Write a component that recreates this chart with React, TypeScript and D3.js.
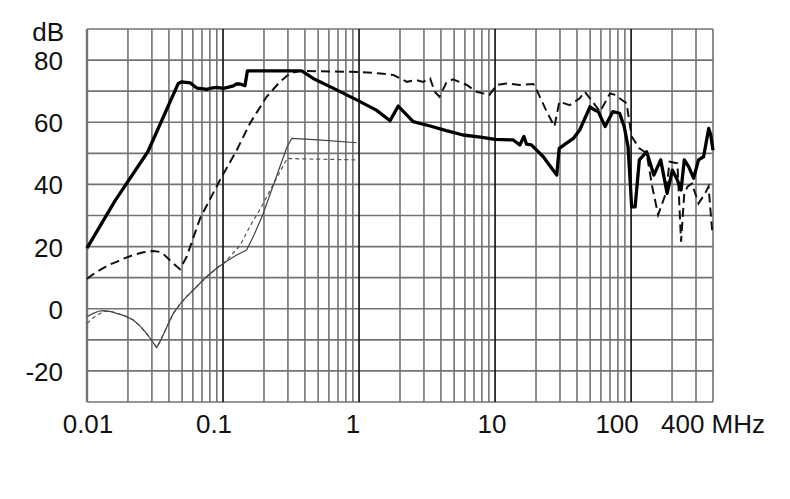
import React from "react";
import * as d3 from "d3";

type Pt = [number, number];

// Frequencies in MHz, levels in dB
const thickSolid: Pt[] = [
  [0.01, 19.5], [0.0161, 34.8], [0.028, 50.5], [0.0469, 72.5], [0.0497, 73], [0.0572, 72.7], [0.0641, 71],
  [0.07, 70.8], [0.0758, 70.6], [0.082, 71], [0.0896, 71.2], [0.1007, 70.9], [0.11, 71.3], [0.119, 71.7],
  [0.125, 72.3], [0.133, 72.3], [0.145, 71.8], [0.151, 76.5], [0.379, 76.5], [0.46, 74.1], [0.65, 70.9],
  [0.96, 67.2], [1.34, 63.9], [1.69, 60.5], [1.94, 65.2], [2.5, 60.2], [3.33, 58.8], [4.38, 57.3],
  [5.81, 55.9], [7.8, 55.2], [10, 54.5], [13.6, 54.3], [15.2, 52.7], [16.3, 55.4], [17, 53], [18.5, 52.7],
  [22.6, 48.9], [28.4, 43], [29.6, 51.6], [37.6, 54.8], [41.9, 57.5], [49.9, 65], [53.5, 64], [57.4, 63.4],
  [64.4, 58.6], [73.3, 63.4], [82.3, 62.9], [89, 58.6], [95, 52.1], [101, 32.8], [107, 32.8], [115, 47.9],
  [130, 50.5], [147, 43], [165, 47.9], [184, 37.1], [201, 44.6], [219, 41.4], [233, 38.2], [246, 47.9],
  [265, 45.7], [288, 42], [313, 47.9], [341, 48.9], [372, 58], [385, 56], [400, 51],
];

const thickDashed: Pt[] = [
  [0.01, 9.6], [0.011, 11], [0.0125, 12.5], [0.0145, 14.1], [0.0165, 15.1], [0.019, 16.3], [0.0219, 17.3],
  [0.026, 18.2], [0.0307, 18.6], [0.034, 18.3], [0.0364, 17.6], [0.0419, 15.1], [0.0482, 12.7],
  [0.054, 16.7], [0.0677, 29], [0.095, 41.4], [0.126, 51], [0.158, 59.7],
  [0.209, 68.2], [0.262, 73], [0.311, 75.7], [0.367, 76.5], [1.0, 76.2], [1.43, 75.7], [1.79, 75.2],
  [2.25, 73], [2.63, 73.6], [2.96, 73], [3.33, 74.1], [3.6, 69.8], [3.9, 68.2], [4.38, 72.7], [4.9, 73.8],
  [6.2, 72], [7.3, 69.8], [9.1, 68.8], [10.3, 72], [12.1, 72.5], [15.2, 72], [19.1, 72.3], [20.2, 70.4],
  [23.7, 63.9], [27.3, 58.6], [29.7, 66.6], [35.3, 65.5], [41.9, 67.7], [45.7, 69.8], [49.9, 67.7],
  [59.1, 63.4], [70, 69.3], [76, 68.8], [92.6, 66.1], [101, 55.4], [115, 51.6], [130, 50], [143, 39.3],
  [158, 30.2], [180, 37.1], [192, 47.3], [219, 46.8], [233, 21.6], [246, 37.1], [260, 39.3], [280, 40.3],
  [313, 33.9], [350, 37.1], [371, 39.3], [394, 25.3],
];

const thinSolid: Pt[] = [
  [0.01, -2.6], [0.0111, -1.5], [0.0122, -0.8], [0.0132, -0.6], [0.015, -0.9], [0.0165, -1.5], [0.019, -2.3],
  [0.0219, -3.6], [0.0245, -5.5], [0.0274, -7.9], [0.03, -10.3], [0.0325, -12.5], [0.0345, -10.5],
  [0.039, -5.5], [0.0431, -1.5], [0.048, 1.3], [0.054, 3.9], [0.061, 6.2], [0.0677, 8.2], [0.078, 10.8],
  [0.0898, 13], [0.106, 15.3], [0.125, 17.2], [0.149, 18.9], [0.168, 23.5], [0.195, 30], [0.262, 45.7],
  [0.296, 52.1], [0.32, 54.8], [0.5, 54.3], [0.96, 53.4],
];

const thinDashed: Pt[] = [
  [0.01, -4.7], [0.0112, -2.8], [0.0125, -1.5], [0.0135, -0.8], [0.015, -0.9], [0.0165, -1.4], [0.019, -2.3],
  [0.0219, -3.6], [0.0245, -5.5], [0.0274, -7.9], [0.03, -10.3], [0.0325, -12.5], [0.0345, -10.5],
  [0.039, -5.5], [0.0431, -1.5], [0.048, 1.3], [0.054, 3.9], [0.061, 6.2], [0.0677, 8.2], [0.078, 10.8],
  [0.0898, 13], [0.106, 15.5], [0.133, 20.3], [0.16, 27], [0.19, 32.5], [0.262, 44], [0.296, 48.4],
  [0.31, 48.3], [0.96, 47.9],
];

const yTicks = [80, 60, 40, 20, 0, -20];
const xTickLabels = ["0.01", "0.1", "1", "10", "100", "400 MHz"];
const xTickValues = [0.01, 0.1, 1, 10, 100, 400];
const decades = [0.1, 1, 10, 100];

// layout offsets for x labels (label anchoring as in the original)
const xLabelDx = [1, -9, -6, -3, -14, -52];
const xLabelAnchor = ["middle", "middle", "middle", "middle", "middle", "start"];

export default function App() {
  const W = 790, H = 499;
  const x = d3.scaleLog().domain([0.01, 400]).range([87, 713]);
  const y = d3.scaleLinear().domain([-30, 90]).range([402, 29]);

  const minor: number[] = [];
  [0.01, 0.1, 1, 10, 100].forEach((d) => {
    for (let k = 1; k <= 9; k++) {
      const v = +(k * d).toPrecision(6);
      if (v <= 400 && !decades.includes(v)) minor.push(v);
    }
  });
  const hLines = d3.range(-30, 91, 10);

  const line = d3.line<Pt>().x((d) => x(d[0])).y((d) => y(d[1]));
  const font = "'Liberation Sans', Arial, Helvetica, sans-serif";
  const gridColor = "#737373";

  return (
    <svg width={W} height={H} style={{ position: "absolute", left: 0, top: 0, background: "#fff" }}>
      <rect x={0} y={0} width={W} height={H} fill="#fff" />
      {hLines.map((v) => (
        <line key={"h" + v} x1={x(0.01)} x2={x(400)} y1={y(v)} y2={y(v)} stroke={gridColor} strokeWidth={1.6} />
      ))}
      {minor.map((v) => (
        <line key={"m" + v} x1={x(v)} x2={x(v)} y1={y(-30)} y2={y(90)} stroke={gridColor} strokeWidth={v === 0.01 ? 2.4 : 1.6} />
      ))}
      {decades.map((v) => (
        <line key={"d" + v} x1={x(v)} x2={x(v)} y1={y(-30)} y2={y(90)} stroke="#1a1a1a" strokeWidth={1.7} />
      ))}

      <path d={line(thinDashed) || ""} fill="none" stroke="#555" strokeWidth={1.2} strokeDasharray="4,3" />
      <path d={line(thinSolid) || ""} fill="none" stroke="#444" strokeWidth={1.2} />
      <path d={line(thickDashed) || ""} fill="none" stroke="#111" strokeWidth={2} strokeDasharray="9,5" />
      <path d={line(thickSolid) || ""} fill="none" stroke="#000" strokeWidth={3.3} strokeLinejoin="round" />

      <g fontFamily={font} fontSize={26} fill="#111">
        <text x={64} y={41} textAnchor="end">dB</text>
        {yTicks.map((v) => (
          <text key={"yl" + v} x={63} y={y(v) + 10} textAnchor="end">{v}</text>
        ))}
        {xTickValues.map((v, i) => (
          <text key={"xl" + v} x={x(v) + xLabelDx[i]} y={433} textAnchor={xLabelAnchor[i] as any}>
            {xTickLabels[i]}
          </text>
        ))}
      </g>
    </svg>
  );
}
